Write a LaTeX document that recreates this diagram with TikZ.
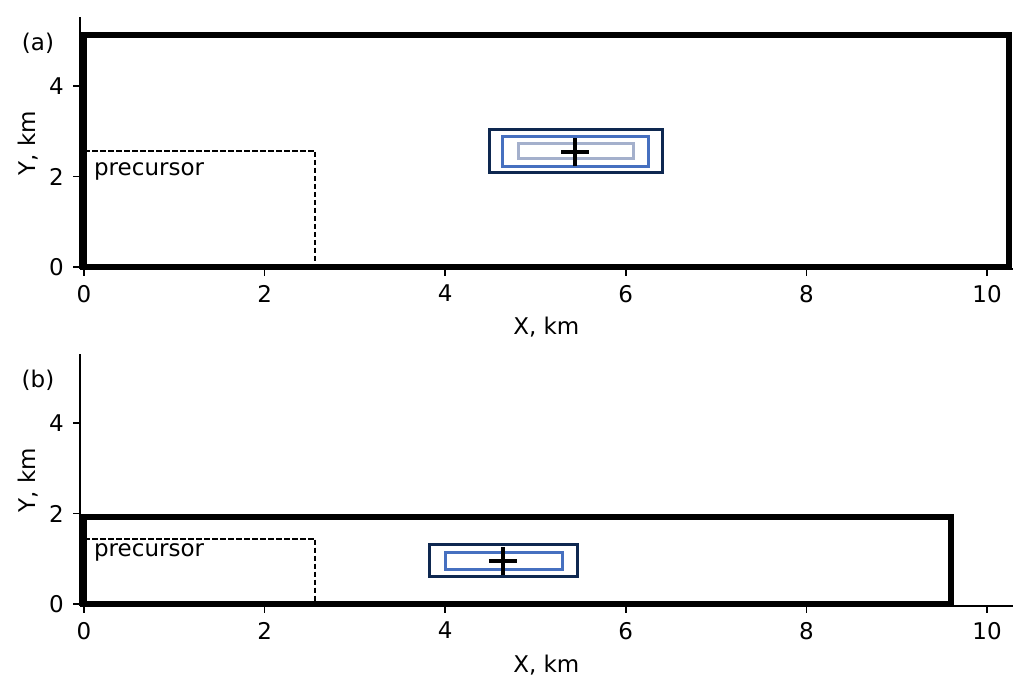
\documentclass[tikz,border=0pt]{standalone}
\usepackage{fontspec}
\setmainfont{DejaVu Sans}
\definecolor{navy}{RGB}{14,40,80}
\definecolor{midblue}{RGB}{70,112,192}
\definecolor{lightblue}{RGB}{164,176,204}
\tikzset{
  lbl/.style={inner sep=0pt, font=\fontsize{23}{27}\selectfont},
  spine/.style={line width=1.5pt, line cap=butt},
  tickline/.style={line width=1.5pt},
  domainbox/.style={line width=6.2pt, line join=miter},
  prec/.style={line width=1.8pt, dash pattern=on 5.5pt off 2.5pt},
  box1/.style={draw=navy, line width=3pt},
  box2/.style={draw=midblue, line width=3pt},
  box3/.style={draw=lightblue, line width=3pt},
  crossline/.style={line width=4.2pt},
}
\begin{document}
\begin{tikzpicture}[x=1pt,y=1pt]
\useasboundingbox (0,0) rectangle (1033,694);
% ---------------- panel (a) ----------------
\begin{scope}[shift={(84,427)}, x=90.3pt, y=45.25pt]
  \draw[spine] (-0.045,-0.04) -- (-0.045,5.53);
  \draw[spine] (-0.045,-0.04) -- (10.29,-0.04);
  \foreach \t in {0,2,...,10}{
    \draw[tickline] (\t,-0.04) -- ++(0,-7pt);
    \node[lbl, anchor=north] (xa\t) at (\t,-0.04) [yshift=-16pt] {\t};
  }
  \foreach \t in {0,2,4}{
    \draw[tickline] (-0.045,\t) -- ++(-7pt,0);
    \node[lbl, anchor=east] (ya\t) at (-0.045,\t) [xshift=-16pt] {\t};
  }
  \node[lbl] (xla) at (5.12,0) [yshift=-60pt] {X, km};
  \path (0,2.74) ++(-56pt,0) node[lbl, rotate=90] (yla) {Y, km};
  \node[lbl] (pa) at (0,4.95) [xshift=-46pt] {(a)};
  \draw[prec] (0,2.56) -- (2.56,2.56) -- (2.56,0);
  \node[lbl, anchor=base west] (preca) at (0.11,2.02) {precursor};
  \draw[box1] (4.485,2.08) rectangle (6.41,3.04);
  \draw[box2] (4.64,2.23) rectangle (6.25,2.88);
  \draw[box3] (4.81,2.40) rectangle (6.08,2.73);
  \coordinate (ca) at (5.44,2.54);
  \draw[crossline] ([xshift=-14pt]ca) -- ([xshift=14pt]ca);
  \draw[crossline] ([yshift=-14pt]ca) -- ([yshift=14pt]ca);
  \draw[domainbox] (0,0) rectangle (10.24,5.12);
\end{scope}
% ---------------- panel (b) ----------------
\begin{scope}[shift={(84,90)}, x=90.3pt, y=45.25pt]
  \draw[spine] (-0.045,-0.04) -- (-0.045,5.53);
  \draw[spine] (-0.045,-0.04) -- (10.29,-0.04);
  \foreach \t in {0,2,...,10}{
    \draw[tickline] (\t,-0.04) -- ++(0,-7pt);
    \node[lbl, anchor=north] (xb\t) at (\t,-0.04) [yshift=-16pt] {\t};
  }
  \foreach \t in {0,2,4}{
    \draw[tickline] (-0.045,\t) -- ++(-7pt,0);
    \node[lbl, anchor=east] (yb\t) at (-0.045,\t) [xshift=-16pt] {\t};
  }
  \node[lbl] (xlb) at (5.12,0) [yshift=-61pt] {X, km};
  \path (0,2.74) ++(-56pt,0) node[lbl, rotate=90] (ylb) {Y, km};
  \node[lbl] (pb) at (0,4.95) [xshift=-46pt] {(b)};
  \draw[prec] (0,1.44) -- (2.56,1.44) -- (2.56,0);
  \node[lbl, anchor=base west] (precb) at (0.11,1.05) {precursor};
  \draw[box1] (3.83,0.60) rectangle (5.46,1.31);
  \draw[box2] (4.0,0.77) rectangle (5.3,1.13);
  \coordinate (cb) at (4.64,0.95);
  \draw[crossline] ([xshift=-14pt]cb) -- ([xshift=14pt]cb);
  \draw[crossline] ([yshift=-14pt]cb) -- ([yshift=14pt]cb);
  \draw[domainbox] (0,0) rectangle (9.6,1.92);
\end{scope}
\end{tikzpicture}
\end{document}
